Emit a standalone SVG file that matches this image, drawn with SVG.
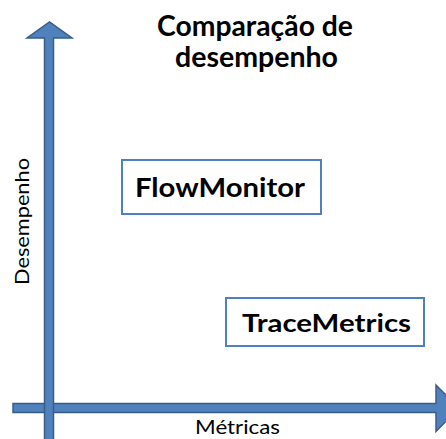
<svg xmlns="http://www.w3.org/2000/svg" width="446" height="439" viewBox="0 0 446 439">
  <style>
    .axis { fill: #4F81BD; stroke: #385D8A; stroke-width: 1.5; stroke-linejoin: miter; }
    .box { fill: #FFFFFF; stroke: #4F81BD; stroke-width: 2; }
    .label { font-family: Lato, "Open Sans", "Liberation Sans", sans-serif; fill: #000000; }
    .bold { font-weight: bold; }
  </style>
  <rect width="446" height="439" fill="#FFFFFF"/>

  <!-- axes -->
  <g id="connectors">
    <polygon class="axis" points="13,403.5 436,403.5 436,385 459,408 436,431.5 436,412.5 13,412.5"/>
    <polygon class="axis" points="44.5,445 44.5,38 27,38 49.5,22 72,38 53.5,38 53.5,445"/>
  </g>

  <!-- title -->
  <g id="title">
    <text class="label bold" x="255" y="36" font-size="28" text-anchor="middle" textLength="196" lengthAdjust="spacingAndGlyphs">Comparação de</text>
    <text class="label bold" x="256.5" y="67" font-size="28" text-anchor="middle" textLength="163" lengthAdjust="spacingAndGlyphs">desempenho</text>
  </g>

  <!-- axis labels -->
  <g id="y-label">
    <text class="label" transform="translate(29,285) rotate(-90)" x="0" y="0" font-size="19" textLength="127" lengthAdjust="spacingAndGlyphs">Desempenho</text>
  </g>
  <g id="x-label">
    <text class="label" x="195" y="434" font-size="19" textLength="85" lengthAdjust="spacingAndGlyphs">Métricas</text>
  </g>

  <!-- nodes -->
  <g id="flowmonitor">
    <rect class="box" x="122" y="160" width="199" height="54"/>
    <text class="label bold" x="135" y="197" font-size="26" textLength="170" lengthAdjust="spacingAndGlyphs">FlowMonitor</text>
  </g>
  <g id="tracemetrics">
    <rect class="box" x="226" y="298" width="198" height="48"/>
    <text class="label bold" x="242" y="332" font-size="25" textLength="169" lengthAdjust="spacingAndGlyphs">TraceMetrics</text>
  </g>
</svg>
